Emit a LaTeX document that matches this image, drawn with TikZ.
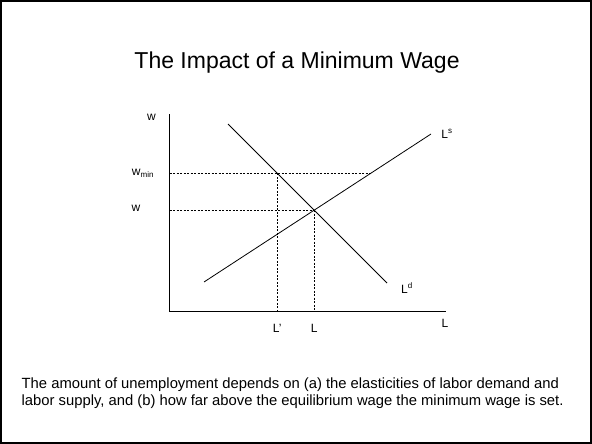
\documentclass[tikz,border=0pt]{standalone}
\usepackage{fontspec}
\setmainfont{Liberation Sans}
\usetikzlibrary{intersections}
\begin{document}
\begin{tikzpicture}[x=1pt,y=-1pt,
  axis/.style={line width=1pt},
  curve/.style={line width=0.8pt},
  guide/.style={line width=0.6pt, dash pattern=on 2pt off 1.5pt},
  lbl/.style={inner sep=0pt, font=\fontsize{12}{14}\selectfont},
  title/.style={inner sep=0pt, font=\fontsize{23}{27}\selectfont},
  caption/.style={inner sep=0pt, anchor=base west, align=left, font=\fontsize{14.8}{17}\selectfont}]
\useasboundingbox (0,0) rectangle (592,444);
\draw[line width=2pt] (1,1) rectangle (591,443);
\node[title] (t) at (297,63) {The Impact of a Minimum Wage};
% axes
\coordinate (O) at (169.5,311.5);
\coordinate (Ytop) at (169.5,114);
\coordinate (Xend) at (446,311.5);
\draw[axis] (Ytop) -- (O) -- (Xend);
% curves
\coordinate (D1) at (228,124);
\coordinate (D2) at (387,283);
\coordinate (S1) at (204,282);
\coordinate (S2) at (431,134);
\draw[curve, name path=dem] (D1) -- (D2);
\draw[curve, name path=sup] (S1) -- (S2);
\path[name intersections={of=dem and sup, by=E}];
\path[name path=wminline] (O |- 0,173.3) -- (Xend |- 0,173.3);
\path[name intersections={of=dem and wminline, by=Ad}];
\path[name intersections={of=sup and wminline, by=As}];
% guides
\draw[guide] (O |- As) -- (As);
\draw[guide] (O |- E) -- (E);
\draw[guide] (Ad) -- (Ad |- O);
\draw[guide] (E) -- (E |- O);
% labels
\node[lbl] (wtop) at (151.5,117) {w};
\node[lbl] (wmin) at (143,173.3) {w\textsubscript{min}};
\node[lbl] (weq) at (136,208.5) {w};
\node[lbl] (Lp) at (Ad |- 0,328) {L'};
\node[lbl] (Leq) at (E |- 0,328) {L};
\node[lbl] (Lax) at (445,323) {L};
\node[lbl] (Ls) at (447,134) {L\textsuperscript{s}};
\node[lbl] (Ld) at (407,288) {L\textsuperscript{d}};
\node[caption] (cap) at (21.5,405) {The amount of unemployment depends on (a) the elasticities of labor demand and\\labor supply, and (b) how far above the equilibrium wage the minimum wage is set.};
\end{tikzpicture}
\end{document}
